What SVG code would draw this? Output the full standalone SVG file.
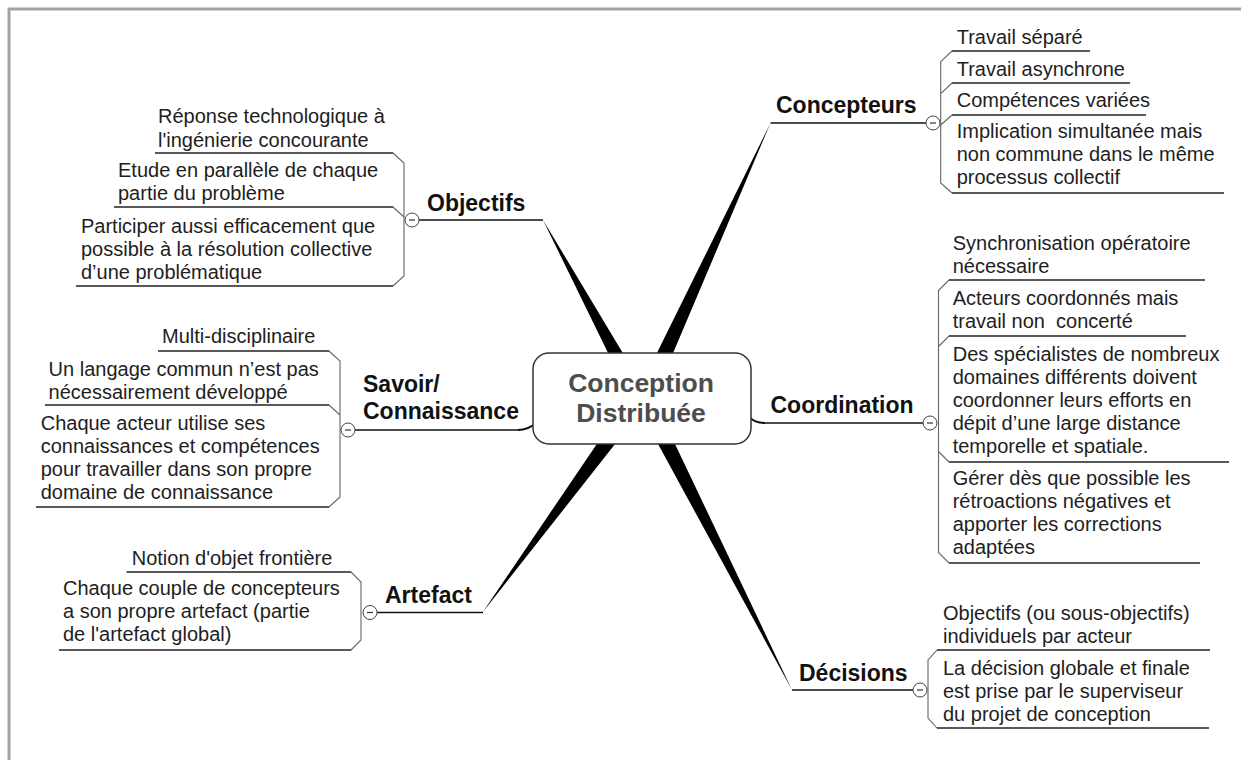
<svg xmlns="http://www.w3.org/2000/svg" width="1241" height="760" viewBox="0 0 1241 760">
<style>
.leaf{font-family:"Liberation Sans",Arial,sans-serif;font-size:20px;fill:#1e1e1e}
.branch{font-family:"Liberation Sans",Arial,sans-serif;font-size:23px;font-weight:bold;fill:#111}
.title{font-family:"Liberation Sans",Arial,sans-serif;font-size:26.5px;font-weight:bold;fill:#4d4d4d;text-anchor:middle}
.ul{stroke:#222;stroke-width:1.3;fill:none}
.bl{stroke:#111;stroke-width:1.5;fill:none}
.br{stroke:#666;stroke-width:1.1;fill:none}
.wedge{fill:#000}
.tog circle{fill:#fff;stroke:#444;stroke-width:1}
.tog line{stroke:#333;stroke-width:1.2}
</style>
<rect x="0" y="0" width="1241" height="760" fill="#fff"/>
<path d="M9,760 L9,9 L1241,9" stroke="#a3a3a3" stroke-width="3" fill="none"/>

<g id="connectors">
  <polygon class="wedge" points="543,220 614,365 630,365"/>
  <polygon class="wedge" points="770.5,123 651,365 668,365"/>
  <polygon class="wedge" points="482.5,612.5 605,432 624.5,432"/>
  <polygon class="wedge" points="792,690 651.5,432 669.3,432"/>
  <path d="M518,430 Q528,430 536,423" stroke="#111" stroke-width="2" fill="none"/>
  <path d="M749,417 Q755,423 765,423" stroke="#111" stroke-width="2" fill="none"/>
  <path class="br" d="M393,153 L404,163 L404,276 L393,286 M393,207 L404,217"/>
  <path class="br" d="M952,51 L940.7,61.7 L940.7,183 L952,193 M952,83 L940.7,93.7 M952,115 L940.7,125"/>
  <path class="br" d="M949,280 L938.5,290.5 L938.5,552.5 L949,563 M949,336 L938.5,346.5 M949,462 L938.5,451.5"/>
  <path class="br" d="M937,650 L928,660 L928,718 L937,728"/>
  <path class="br" d="M329,351 L340,361 L340,497 L329,507 M329,405 L340,415"/>
  <path class="br" d="M351,572 L361,582 L361,640 L351,650"/>
</g>

<g id="center">
  <rect x="533" y="353" width="218" height="91" rx="16" fill="#fff" stroke="#333" stroke-width="1.5"/>
  <text class="title" x="641" y="392">Conception</text>
  <text class="title" x="641" y="422">Distribuée</text>
</g>

<g id="objectifs">
  <text class="branch" x="427" y="211">Objectifs</text>
  <line class="bl" x1="419" y1="220" x2="543" y2="220"/>
  <g class="tog"><circle cx="412" cy="220" r="7"/><line x1="409" y1="220" x2="415" y2="220"/></g>
</g>
<g id="obj-1">
  <text class="leaf"><tspan x="158" y="123">Réponse technologique à</tspan><tspan x="158" y="147">l'ingénierie concourante</tspan></text>
  <line class="ul" x1="155" y1="153" x2="393" y2="153"/>
</g>
<g id="obj-2">
  <text class="leaf"><tspan x="118" y="177">Etude en parallèle de chaque</tspan><tspan x="118" y="200">partie du problème</tspan></text>
  <line class="ul" x1="114" y1="207" x2="393" y2="207"/>
</g>
<g id="obj-3">
  <text class="leaf"><tspan x="81" y="233">Participer aussi efficacement que</tspan><tspan x="81" y="256">possible à la résolution collective</tspan><tspan x="81" y="279">d’une problématique</tspan></text>
  <line class="ul" x1="76" y1="286" x2="393" y2="286"/>
</g>

<g id="concepteurs">
  <text class="branch" x="776" y="113">Concepteurs</text>
  <line class="bl" x1="770.5" y1="123" x2="926" y2="123"/>
  <g class="tog"><circle cx="933" cy="123" r="7"/><line x1="930" y1="123" x2="936" y2="123"/></g>
</g>
<g id="conc-1">
  <text class="leaf" x="956.7" y="44">Travail séparé</text>
  <line class="ul" x1="952" y1="51" x2="1090" y2="51"/>
</g>
<g id="conc-2">
  <text class="leaf" x="956.7" y="76">Travail asynchrone</text>
  <line class="ul" x1="952" y1="83" x2="1130" y2="83"/>
</g>
<g id="conc-3">
  <text class="leaf" x="956.7" y="107">Compétences variées</text>
  <line class="ul" x1="952" y1="115" x2="1146" y2="115"/>
</g>
<g id="conc-4">
  <text class="leaf"><tspan x="956.7" y="138">Implication simultanée mais</tspan><tspan x="956.7" y="161">non commune dans le même</tspan><tspan x="956.7" y="184">processus collectif</tspan></text>
  <line class="ul" x1="952" y1="193" x2="1224" y2="193"/>
</g>

<g id="coordination">
  <text class="branch" x="770.5" y="413">Coordination</text>
  <line class="bl" x1="763" y1="423" x2="923" y2="423"/>
  <g class="tog"><circle cx="930" cy="423" r="7"/><line x1="927" y1="423" x2="933" y2="423"/></g>
</g>
<g id="coord-1">
  <text class="leaf"><tspan x="952.7" y="250">Synchronisation opératoire</tspan><tspan x="952.7" y="273">nécessaire</tspan></text>
  <line class="ul" x1="949" y1="280" x2="1205" y2="280"/>
</g>
<g id="coord-2">
  <text class="leaf" xml:space="preserve"><tspan x="952.7" y="305">Acteurs coordonnés mais</tspan><tspan x="952.7" y="328">travail non  concerté</tspan></text>
  <line class="ul" x1="949" y1="336" x2="1186" y2="336"/>
</g>
<g id="coord-3">
  <text class="leaf"><tspan x="952.7" y="361">Des spécialistes de nombreux</tspan><tspan x="952.7" y="384">domaines différents doivent</tspan><tspan x="952.7" y="407">coordonner leurs efforts en</tspan><tspan x="952.7" y="430">dépit d’une large distance</tspan><tspan x="952.7" y="453">temporelle et spatiale.</tspan></text>
  <line class="ul" x1="949" y1="462" x2="1229" y2="462"/>
</g>
<g id="coord-4">
  <text class="leaf"><tspan x="952.7" y="485">Gérer dès que possible les</tspan><tspan x="952.7" y="508">rétroactions négatives et</tspan><tspan x="952.7" y="531">apporter les corrections</tspan><tspan x="952.7" y="554">adaptées</tspan></text>
  <line class="ul" x1="949" y1="563" x2="1200" y2="563"/>
</g>

<g id="decisions">
  <text class="branch" x="799" y="681">Décisions</text>
  <line class="bl" x1="792" y1="690" x2="913" y2="690"/>
  <g class="tog"><circle cx="920" cy="690" r="7"/><line x1="917" y1="690" x2="923" y2="690"/></g>
</g>
<g id="dec-1">
  <text class="leaf"><tspan x="943" y="620">Objectifs (ou sous-objectifs)</tspan><tspan x="943" y="643">individuels par acteur</tspan></text>
  <line class="ul" x1="937" y1="650" x2="1210" y2="650"/>
</g>
<g id="dec-2">
  <text class="leaf"><tspan x="943" y="675">La décision globale et finale</tspan><tspan x="943" y="698">est prise par le superviseur</tspan><tspan x="943" y="721">du projet de conception</tspan></text>
  <line class="ul" x1="937" y1="728" x2="1209" y2="728"/>
</g>

<g id="savoir">
  <text class="branch"><tspan x="363" y="392">Savoir/</tspan><tspan x="363" y="419">Connaissance</tspan></text>
  <line class="bl" x1="355" y1="430" x2="520" y2="430"/>
  <g class="tog"><circle cx="348" cy="430" r="7"/><line x1="345" y1="430" x2="351" y2="430"/></g>
</g>
<g id="sav-1">
  <text class="leaf" x="162" y="343">Multi-disciplinaire</text>
  <line class="ul" x1="158" y1="351" x2="329" y2="351"/>
</g>
<g id="sav-2">
  <text class="leaf"><tspan x="48.6" y="376">Un langage commun n’est pas</tspan><tspan x="48.6" y="399">nécessairement développé</tspan></text>
  <line class="ul" x1="45" y1="405" x2="329" y2="405"/>
</g>
<g id="sav-3">
  <text class="leaf"><tspan x="40.7" y="430">Chaque acteur utilise ses</tspan><tspan x="40.7" y="453">connaissances et compétences</tspan><tspan x="40.7" y="476">pour travailler dans son propre</tspan><tspan x="40.7" y="499">domaine de connaissance</tspan></text>
  <line class="ul" x1="36" y1="507" x2="329" y2="507"/>
</g>

<g id="artefact">
  <text class="branch" x="385" y="603">Artefact</text>
  <line class="bl" x1="377" y1="612.5" x2="483" y2="612.5"/>
  <g class="tog"><circle cx="370" cy="612.5" r="7"/><line x1="367" y1="612.5" x2="373" y2="612.5"/></g>
</g>
<g id="art-1">
  <text class="leaf" x="131.7" y="565">Notion d'objet frontière</text>
  <line class="ul" x1="126.5" y1="572" x2="351" y2="572"/>
</g>
<g id="art-2">
  <text class="leaf"><tspan x="63" y="595">Chaque couple de concepteurs</tspan><tspan x="63" y="618">a son propre artefact (partie</tspan><tspan x="63" y="641">de l'artefact global)</tspan></text>
  <line class="ul" x1="59" y1="650" x2="351" y2="650"/>
</g>
</svg>
